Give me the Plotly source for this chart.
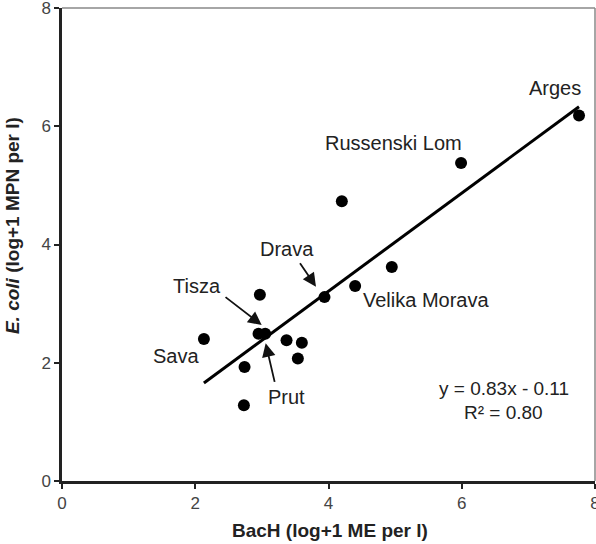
import plotly.graph_objects as go

# Data
bach = [7.76, 5.99, 4.20, 4.95, 4.40, 3.94, 2.97, 2.95, 3.05, 2.13, 3.37, 3.60, 3.54, 2.74, 2.73]
ecoli = [6.18, 5.38, 4.73, 3.62, 3.30, 3.11, 3.15, 2.49, 2.49, 2.40, 2.38, 2.34, 2.07, 1.93, 1.28]

slope = 0.83
intercept = -0.11
r_squared = 0.80

river_names = ["Arges", "Russenski Lom", "Drava", "Tisza", "Sava", "Prut", "Velika Morava"]
river_label_x = [7.40, 4.98, 3.37, 2.03, 1.71, 3.37, 5.46]
river_label_y = [6.65, 5.72, 3.92, 3.29, 2.12, 1.42, 3.06]

# arrows: tail -> tip
arrow_tail_x = [3.557, 2.432, 3.197]
arrow_tail_y = [3.709, 3.129, 1.652]
arrow_tip_x = [3.812, 2.997, 3.057]
arrow_tip_y = [3.286, 2.638, 2.329]

tick_vals = [0, 2, 4, 6, 8]

FONT = "Liberation Sans, Arial, sans-serif"

fig = go.Figure()

xmin, xmax = min(bach), max(bach)
fig.add_trace(go.Scatter(
    x=[xmin, xmax], y=[slope * xmin + intercept, slope * xmax + intercept],
    mode="lines", line=dict(color="black", width=3), showlegend=False, hoverinfo="skip"))

fig.add_trace(go.Scatter(
    x=bach, y=ecoli, mode="markers",
    marker=dict(color="black", size=12), showlegend=False))

annotations = []
for name, lx, ly in zip(river_names, river_label_x, river_label_y):
    annotations.append(dict(x=lx, y=ly, xref="x", yref="y", text=name, showarrow=False,
                            font=dict(family=FONT, size=20, color="#222")))

for tx, ty, hx, hy in zip(arrow_tail_x, arrow_tail_y, arrow_tip_x, arrow_tip_y):
    annotations.append(dict(x=hx, y=hy, ax=tx, ay=ty, xref="x", yref="y", axref="x", ayref="y",
                            text="", showarrow=True, arrowhead=2, arrowsize=1.5, arrowwidth=1.8,
                            arrowcolor="#111", standoff=0, startstandoff=0))

annotations.append(dict(x=6.63, y=1.56, xref="x", yref="y",
                        text=f"y = {slope:.2f}x - {abs(intercept):.2f}", showarrow=False,
                        font=dict(family=FONT, size=19, color="#222")))
annotations.append(dict(x=6.63, y=1.16, xref="x", yref="y",
                        text=f"R² = {r_squared:.2f}", showarrow=False,
                        font=dict(family=FONT, size=19, color="#222")))

# y axis title
annotations.append(dict(x=-0.0929, y=0.54, xref="paper", yref="paper",
                        xanchor="center", yanchor="middle",
                        text="<b><i>E. coli</i> (log+1 MPN per l)</b>", showarrow=False,
                        textangle=-90, font=dict(family=FONT, size=19, color="#222")))
# x axis title
annotations.append(dict(x=0.503, y=-0.104, xref="paper", yref="paper",
                        xanchor="center", yanchor="middle",
                        text="<b>BacH (log+1 ME per l)</b>", showarrow=False,
                        font=dict(family=FONT, size=19, color="#222")))

fig.update_layout(
    width=596, height=544,
    margin=dict(l=62, r=1, t=8, b=63, autoexpand=False),
    paper_bgcolor="white", plot_bgcolor="white",
    annotations=annotations,
    shapes=[
        dict(type="line", xref="paper", yref="paper", x0=0, x1=1, y0=1, y1=1,
             line=dict(color="#888", width=1.5)),
        dict(type="line", xref="paper", yref="paper", x0=1, x1=1, y0=0, y1=1,
             line=dict(color="#888", width=1.5)),
    ],
)

common = dict(range=[0, 8], tickvals=tick_vals, showgrid=False, zeroline=False,
              showline=True, linecolor="#222", linewidth=2.5,
              ticks="outside", ticklen=5, tickwidth=1.5, tickcolor="#222",
              ticklabeloverflow="allow", automargin=False,
              tickfont=dict(family=FONT, size=17, color="#444"))
fig.update_xaxes(**common)
fig.update_yaxes(**common)

fig.write_html("out.html")
